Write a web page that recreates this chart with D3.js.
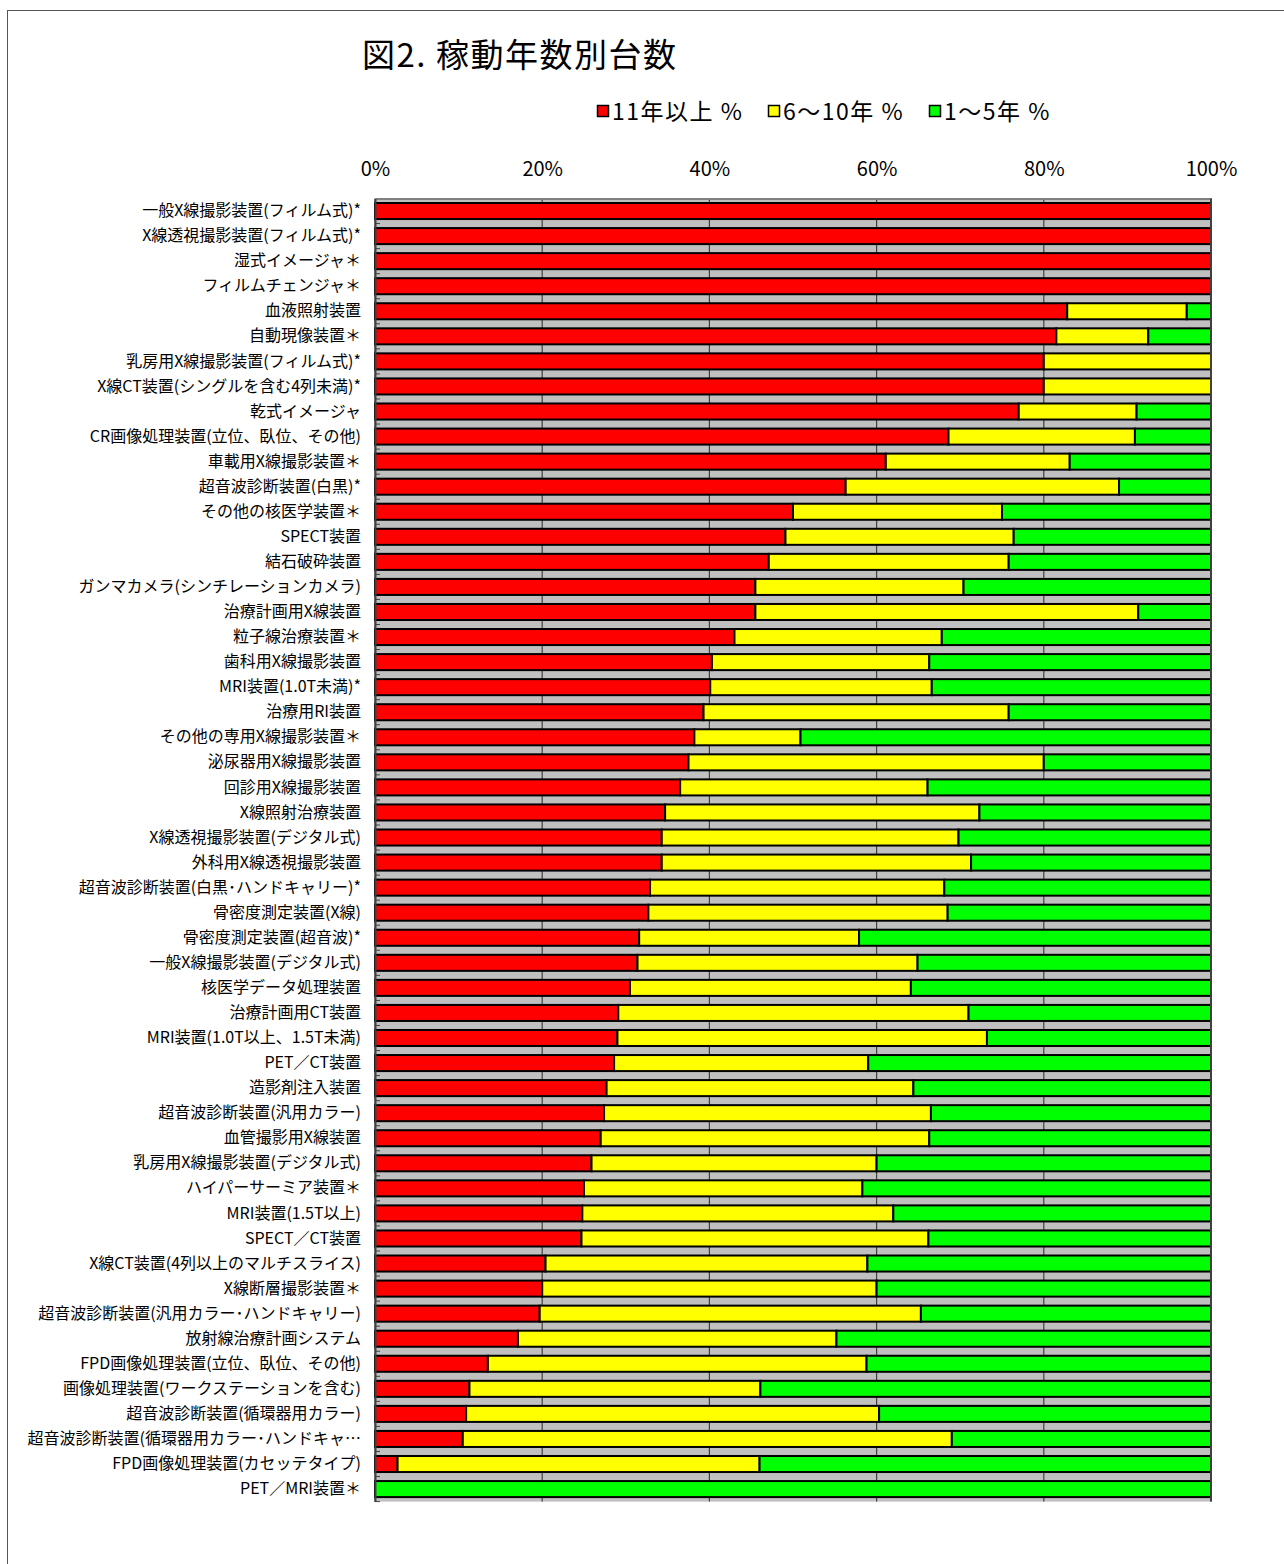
<!DOCTYPE html>
<html>
<head>
<meta charset="utf-8">
<script src="https://cdn.jsdelivr.net/npm/d3@7"></script>
<style>
  body { margin: 0; background: #fff; }
  text { font-family: "Noto Sans CJK JP", "Noto Sans", sans-serif; fill: #000; }
</style>
</head>
<body>
<svg id="chart" width="1284" height="1564"></svg>
<script>
// equipment names, top to bottom
var categories = [
  "一般X線撮影装置(フィルム式)*", "X線透視撮影装置(フィルム式)*", "湿式イメージャ＊", "フィルムチェンジャ＊",
  "血液照射装置", "自動現像装置＊", "乳房用X線撮影装置(フィルム式)*", "X線CT装置(シングルを含む4列未満)*",
  "乾式イメージャ", "CR画像処理装置(立位、臥位、その他)", "車載用X線撮影装置＊", "超音波診断装置(白黒)*",
  "その他の核医学装置＊", "SPECT装置", "結石破砕装置", "ガンマカメラ(シンチレーションカメラ)",
  "治療計画用X線装置", "粒子線治療装置＊", "歯科用X線撮影装置", "MRI装置(1.0T未満)*",
  "治療用RI装置", "その他の専用X線撮影装置＊", "泌尿器用X線撮影装置", "回診用X線撮影装置",
  "X線照射治療装置", "X線透視撮影装置(デジタル式)", "外科用X線透視撮影装置", "超音波診断装置(白黒･ハンドキャリー)*",
  "骨密度測定装置(X線)", "骨密度測定装置(超音波)*", "一般X線撮影装置(デジタル式)", "核医学データ処理装置",
  "治療計画用CT装置", "MRI装置(1.0T以上、1.5T未満)", "PET／CT装置", "造影剤注入装置",
  "超音波診断装置(汎用カラー)", "血管撮影用X線装置", "乳房用X線撮影装置(デジタル式)", "ハイパーサーミア装置＊",
  "MRI装置(1.5T以上)", "SPECT／CT装置", "X線CT装置(4列以上のマルチスライス)", "X線断層撮影装置＊",
  "超音波診断装置(汎用カラー･ハンドキャリー)", "放射線治療計画システム", "FPD画像処理装置(立位、臥位、その他)", "画像処理装置(ワークステーションを含む)",
  "超音波診断装置(循環器用カラー)", "超音波診断装置(循環器用カラー･ハンドキャ…", "FPD画像処理装置(カセッテタイプ)", "PET／MRI装置＊"
];

// 11 years or more (%)
var over11 = [
  100, 100, 100, 100, 82.8, 81.5, 80, 80, 77.0, 68.6, 61.1, 56.3, 50,
  49.1, 47.1, 45.5, 45.5, 43.0, 40.3, 40.1, 39.3, 38.2, 37.5, 36.5, 34.7, 34.3,
  34.3, 32.9, 32.7, 31.6, 31.4, 30.5, 29.1, 29.0, 28.6, 27.7, 27.4, 27.0, 25.9,
  25.0, 24.8, 24.7, 20.4, 20, 19.7, 17.1, 13.5, 11.3, 10.9, 10.5, 2.7, 0
];
// 6-10 years (%)
var from6to10 = [
  0, 0, 0, 0, 14.3, 11.0, 20, 20, 14.1, 22.3, 22.0, 32.7, 25,
  27.3, 28.7, 24.9, 45.8, 24.8, 26.0, 26.5, 36.5, 12.7, 42.5, 29.6, 37.6, 35.5,
  37.0, 35.2, 35.8, 26.3, 33.5, 33.6, 41.9, 44.2, 30.4, 36.7, 39.1, 39.3, 34.1,
  33.3, 37.2, 41.5, 38.5, 40, 45.6, 38.1, 45.3, 34.8, 49.4, 58.5, 43.3, 0
];
// 1-5 years (%)
var from1to5 = [
  0, 0, 0, 0, 2.9, 7.5, 0, 0, 8.9, 9.1, 16.9, 11.0, 25,
  23.6, 24.2, 29.6, 8.7, 32.2, 33.7, 33.4, 24.2, 49.1, 20.0, 33.9, 27.7, 30.2,
  28.7, 31.9, 31.5, 42.1, 35.1, 35.9, 29.0, 26.8, 41.0, 35.6, 33.5, 33.7, 40.0,
  41.7, 38.0, 33.8, 41.1, 40, 34.7, 44.8, 41.2, 53.9, 39.7, 31.0, 54.0, 100
];

var seriesNames = ["11年以上 %", "6～10年 %", "1～5年 %"];
var seriesKeys = ["a", "b", "c"];
var colors = ["#ff0000", "#ffff00", "#00ff00"];
var tickValues = [0, 20, 40, 60, 80, 100];

var rows = categories.map(function(name, i) {
  return { name: name, a: over11[i], b: from6to10[i], c: from1to5[i] };
});

var svg = d3.select("#chart");

// outer frame
svg.append("rect")
  .attr("x", 7.5).attr("y", 10.5)
  .attr("width", 1300).attr("height", 1600)
  .attr("fill", "none").attr("stroke", "#555").attr("stroke-width", 1);

var plotLeft = 375, plotRight = 1211, plotTop = 198.5, plotBottom = 1501.6;

var x = d3.scaleLinear().domain([0, 100]).range([plotLeft, plotRight]);
var y = d3.scaleBand().domain(categories).range([plotTop, plotBottom]).paddingInner(0.36).paddingOuter(0.18);

// title
svg.append("text")
  .attr("x", 362).attr("y", 67)
  .style("font-size", "33px")
  .style("letter-spacing", "1.5px")
  .text("図2. 稼動年数別台数");

// legend
var legendX = [597, 768, 929];
var legend = svg.selectAll("g.legend")
  .data(seriesNames)
  .enter()
  .append("g").classed("legend", true)
  .attr("transform", function(d, i) { return "translate(" + legendX[i] + ",111)"; });

legend.append("rect")
  .attr("x", 0.5).attr("y", -5.5)
  .attr("width", 11).attr("height", 11)
  .attr("fill", function(d, i) { return colors[i]; })
  .attr("stroke", "#000").attr("stroke-width", 1.5);

legend.append("text")
  .attr("x", 15).attr("y", 8.5)
  .style("font-size", "23px")
  .style("letter-spacing", "1.5px")
  .text(function(d) { return d; });

// plot background
svg.append("rect")
  .attr("x", plotLeft).attr("y", plotTop)
  .attr("width", plotRight - plotLeft).attr("height", plotBottom - plotTop)
  .attr("fill", "#c0c0c0");

// vertical grid lines
svg.selectAll("line.grid")
  .data(tickValues)
  .enter()
  .append("line").classed("grid", true)
  .attr("x1", function(d) { return x(d); })
  .attr("x2", function(d) { return x(d); })
  .attr("y1", plotTop).attr("y2", plotBottom)
  .attr("stroke", "#404040").attr("stroke-width", 1.2);

// top axis
var xAxis = d3.axisTop(x)
  .tickValues(tickValues)
  .tickSize(0)
  .tickPadding(23)
  .tickFormat(function(d) { return d + "%"; });

var gx = svg.append("g")
  .attr("transform", "translate(0," + plotTop + ")")
  .call(xAxis);
gx.select(".domain").attr("stroke", "#808080").attr("stroke-width", 2);
gx.selectAll(".tick text")
  .style("font-size", "20px")
  .style("font-family", "\"Noto Sans CJK JP\", sans-serif")
  .attr("fill", "#000");

// stacked bars
var stack = d3.stack().keys(seriesKeys);
var layers = stack(rows);

svg.selectAll("g.layer")
  .data(layers)
  .enter()
  .append("g").classed("layer", true)
  .attr("fill", function(d, i) { return colors[i]; })
  .selectAll("rect")
    .data(function(d) { return d.filter(function(s) { return s[1] - s[0] > 0; }); })
    .enter()
  .append("rect")
    .attr("x", function(d) { return x(d[0]); })
    .attr("y", function(d) { return y(d.data.name); })
    .attr("width", function(d) { return x(d[1]) - x(d[0]); })
    .attr("height", y.bandwidth())
    .attr("stroke", "#000")
    .attr("stroke-width", 2);

// small category tick marks at band boundaries
var step = y.step();
svg.selectAll("line.ytick")
  .data(categories)
  .enter()
  .append("line").classed("ytick", true)
  .attr("x1", plotLeft).attr("x2", plotLeft + 5)
  .attr("y1", function(d) { return y(d) - step * 0.18 + step; })
  .attr("y2", function(d) { return y(d) - step * 0.18 + step; })
  .attr("stroke", "#404040").attr("stroke-width", 1);

// left axis with category labels
var yAxis = d3.axisLeft(y)
  .tickSize(0)
  .tickPadding(14);

var gy = svg.append("g")
  .attr("transform", "translate(" + plotLeft + ",0)")
  .call(yAxis);
gy.select(".domain").attr("stroke", "#404040").attr("stroke-width", 2);
gy.selectAll(".tick text")
  .style("font-size", "16px")
  .style("font-family", "\"Noto Sans CJK JP\", sans-serif")
  .attr("fill", "#000");

// right edge of plot
svg.append("line")
  .attr("x1", plotRight).attr("x2", plotRight)
  .attr("y1", plotTop).attr("y2", plotBottom)
  .attr("stroke", "#404040").attr("stroke-width", 2);
</script>
</body>
</html>
